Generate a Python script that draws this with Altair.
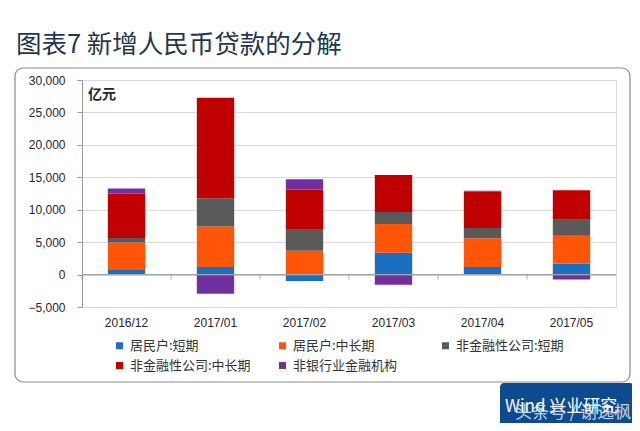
import altair as alt
import pandas as pd

months = ["2016/12", "2017/01", "2017/02", "2017/03", "2017/04", "2017/05"]
series = ["居民户:短期", "居民户:中长期", "非金融性公司:短期", "非金融性公司:中长期", "非银行业金融机构"]
colors = ["#1A6FC0", "#FF5508", "#595959", "#C00000", "#7030A0"]

household_short = [700, 1180, -990, 3370, 1180, 1710]
household_long = [4250, 6230, 3680, 4420, 4430, 4260]
corp_short = [690, 4370, 3330, 1870, 1560, 2490]
corp_long = [6860, 15480, 6120, 5700, 5600, 4560]
nonbank = [780, -2960, 1560, -1560, 150, -750]

y_ticks = [-5000, 0, 5000, 10000, 15000, 20000, 25000, 30000]

rows = []
for k, vals in enumerate([household_short, household_long, corp_short, corp_long, nonbank]):
    for m, v in zip(months, vals):
        rows.append({"month": m, "series": series[k], "value": v, "order": k})
df = pd.DataFrame(rows)
one = pd.DataFrame({"a": [0]})
zdf = pd.DataFrame({"month": months, "value": [0] * len(months)})

W, H = 534, 227
CJK = "Noto Sans CJK SC"

xscale = alt.Scale(domain=months, paddingInner=0.58, paddingOuter=0.29)
yscale = alt.Scale(domain=[-5000, 30000], nice=False, zero=False)
x_axis = alt.Axis(title=None, labelAngle=0, ticks=False, domain=False,
                  labelPadding=10, labelFontSize=12, labelColor="#262626",
                  labelFont="Liberation Sans")
y_axis = alt.Axis(title=None, values=y_ticks, format=",.0f", tickSize=5,
                  labelPadding=12, labelFontSize=12, labelColor="#262626",
                  labelFont="Liberation Sans", tickColor="#999999",
                  domainColor="#999999", gridColor="#D9D9D9", labelOverlap=False)

frame = alt.Chart(one).mark_rect(
    cornerRadius=8, fillOpacity=0, stroke="#8C8C8C", strokeWidth=1.2
).encode(x=alt.value(-67), x2=alt.value(548), y=alt.value(-12), y2=alt.value(302))

bars = alt.Chart(df).mark_bar().encode(
    x=alt.X("month:N", scale=xscale, sort=months, axis=x_axis),
    y=alt.Y("value:Q", stack="zero", scale=yscale, axis=y_axis),
    color=alt.Color("series:N", scale=alt.Scale(domain=series, range=colors),
                    legend=alt.Legend(title=None, orient="none", legendX=31, legendY=259,
                                      direction="horizontal", columns=3, gridAlign="all",
                                      columnPadding=25, rowPadding=6,
                                      symbolType="square", symbolSize=49,
                                      symbolStrokeWidth=0, labelFontSize=13,
                                      labelFont=CJK, labelColor="#333333",
                                      labelLimit=200)),
    order=alt.Order("order:Q"),
)

zero_rule = alt.Chart(zdf).mark_rule(color="#A6A6A6", strokeWidth=1).encode(
    y=alt.Y("value:Q", scale=yscale, axis=y_axis), x=alt.value(0), x2=alt.value(W)
)

ticks = alt.Chart(zdf).mark_tick(
    orient="vertical", size=5, thickness=1, color="#8C8C8C", xOffset=-44.5, yOffset=2.5
).encode(
    x=alt.X("month:N", scale=xscale, sort=months, axis=x_axis),
    y=alt.Y("value:Q", scale=yscale, axis=y_axis),
)

unit = alt.Chart(one).mark_text(
    text="亿元", align="left", baseline="middle", fontSize=14, fontWeight="bold",
    font=CJK, color="#262626"
).encode(x=alt.value(6), y=alt.value(15))

title = alt.Chart(one).mark_text(
    text="图表7 新增人民币贷款的分解", align="left", baseline="alphabetic",
    fontSize=25.5, font=CJK, color="#1E3850"
).encode(x=alt.value(-66), y=alt.value(-27))

wm_box = alt.Chart(one).mark_rect(fill="#0D4A8F", cornerRadius=4).encode(
    x=alt.value(418), x2=alt.value(552), y=alt.value(303), y2=alt.value(352)
)
wm_text = alt.Chart(one).mark_text(
    text="Wind  兴业研究", align="left", baseline="middle", fontSize=17,
    font=CJK, color="white"
).encode(x=alt.value(423), y=alt.value(327))
wm_text2 = alt.Chart(one).mark_text(
    text="头条号 / 谢逸枫", align="left", baseline="middle", fontSize=17,
    font=CJK, color="white", opacity=0.75
).encode(x=alt.value(433), y=alt.value(333))

chart = alt.layer(frame, bars, zero_rule, ticks, unit, title, wm_box, wm_text, wm_text2).properties(
    width=W, height=H,
    autosize=alt.AutoSizeParams(type="none"),
    padding={"left": 74, "top": 72, "right": 16, "bottom": 116},
).configure_view(stroke="#A6A6A6", strokeWidth=1).configure(background="white")

chart.save("out.html", embed_options={"renderer": "svg", "actions": False})
